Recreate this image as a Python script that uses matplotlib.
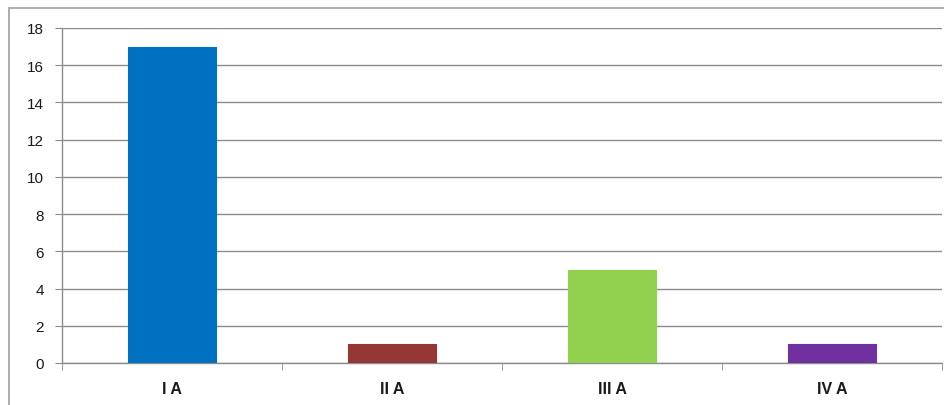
import matplotlib.pyplot as plt
from matplotlib.patches import Rectangle

categories = ['I A', 'II A', 'III A', 'IV A']
values = [17, 1, 5, 1]
colors = ['#0070C0', '#953735', '#92D050', '#7030A0']
y_ticks = [0, 2, 4, 6, 8, 10, 12, 14, 16, 18]

plt.rcParams['font.family'] = ['Liberation Sans', 'DejaVu Sans']

fig = plt.figure(figsize=(9.45, 4.06), dpi=100)
W, H = 945, 406

# outer chart border (cropped at right and bottom)
fig.patches.append(Rectangle((9 / W, -0.1), 1.2, (H - 9) / H + 0.1,
                             transform=fig.transFigure, fill=False,
                             edgecolor='#a6a6a6', linewidth=1.3))

ax = fig.add_axes([62 / W, 42 / H, 880 / W, 335 / H])
x = list(range(len(categories)))
ax.bar(x, values, width=0.4, color=colors, edgecolor=colors, linewidth=0.8, zorder=3)

ax.set_xlim(-0.5, 3.5)
ax.set_ylim(0, 18)
ax.set_yticks(y_ticks)
ax.set_yticklabels([str(t) for t in y_ticks], fontsize=11, color='#1a1a1a')
ax.yaxis.grid(True, color='#8c8c8c', linewidth=1.0, zorder=0)

ax.set_xticks(x)
ax.set_xticklabels(categories, fontsize=11.5, fontweight='bold', color='#1a1a1a')
ax.tick_params(axis='x', length=0, pad=13)
ax.set_xticks([-0.5, 0.5, 1.5, 2.5, 3.5], minor=True)
ax.tick_params(axis='x', which='minor', length=5, color='#8c8c8c', direction='out')
ax.tick_params(axis='y', length=5, color='#8c8c8c', direction='out', pad=8)

for side in ['top', 'right']:
    ax.spines[side].set_visible(False)
for side in ['left', 'bottom']:
    ax.spines[side].set_color('#8c8c8c')
    ax.spines[side].set_linewidth(1.0)

fig.savefig('out.png', dpi=100)
